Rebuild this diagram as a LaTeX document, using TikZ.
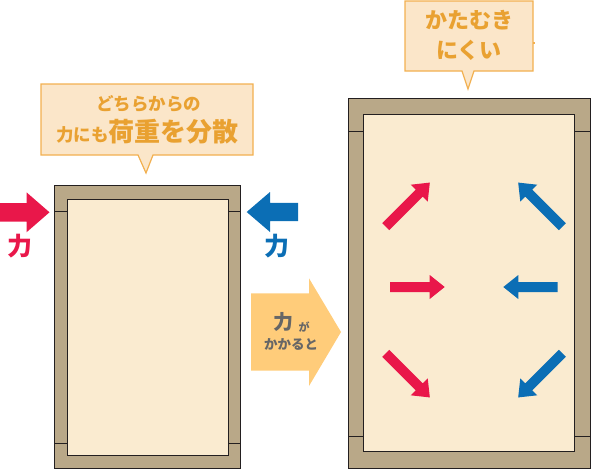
\documentclass[tikz,border=0pt]{standalone}
\usepackage{fontspec}
\newfontfamily\jp{Noto Sans CJK JP}
\definecolor{tanc}{HTML}{B9A888}
\definecolor{creamc}{HTML}{FAEBD0}
\definecolor{linec}{HTML}{231F20}
\definecolor{calfill}{HTML}{FBE6C9}
\definecolor{calline}{HTML}{F2B050}
\definecolor{caltext}{HTML}{E9A131}
\definecolor{redc}{HTML}{E9174A}
\definecolor{bluec}{HTML}{0B6EB5}
\definecolor{orangec}{HTML}{FFCC7A}
\definecolor{grayc}{HTML}{666666}
\newcommand\blockarr[7]{% color, tail, angle, length, shaft half, head half, head length
  \fill[#1, shift={#2}, rotate=#3] (0,-#5) -- ({#4-#7},-#5) -- ({#4-#7},-#6) -- (#4,0) -- ({#4-#7},#6) -- ({#4-#7},#5) -- (0,#5) -- cycle;}
\tikzset{
  framebox/.style={draw=linec, line width=0.9pt},
  callout/.style={draw=calline, fill=calfill, line width=1.2pt, line join=miter},
  caltxt/.style={text=caltext, font=\jp\bfseries, inner sep=0pt, anchor=base},
  forcetxt/.style={font=\jp\bfseries, inner sep=0pt},
}
\begin{document}
\begin{tikzpicture}[x=1pt,y=-1pt]
\useasboundingbox (0,0) rectangle (591,469);
% left frame
\draw[framebox, fill=tanc] (54,185) rectangle (240,468);
\draw[framebox] (54,211) -- (67,211) (228,211) -- (240,211) (54,443) -- (67,443) (228,443) -- (240,443);
\draw[framebox, fill=creamc] (67,199) rectangle (228,455);
% right frame
\draw[framebox, fill=tanc] (348,98) rectangle (590,468);
\draw[framebox] (348,131) -- (363,131) (574,131) -- (590,131) (348,436) -- (363,436) (574,436) -- (590,436);
\draw[framebox, fill=creamc] (363,114) rectangle (574,451);
% left callout
\draw[callout] (41,84) -- (253,84) -- (253,155) -- (153,155) -- (146,173) -- (138,155) -- (41,155) -- cycle;
\node[caltxt] (c1a) at (148.5,110.5) {\fontsize{17.5}{17.5}\selectfont どちらからの};
\node[caltxt] (c1b) at (147.5,141.5) {\fontsize{17.5}{17.5}\selectfont 力にも\fontsize{26}{26}\selectfont 荷重を分散};
% right callout
\draw[callout] (405,1) -- (533,1) -- (533,71) -- (474,71) -- (468,89) -- (462,71) -- (405,71) -- cycle;
\draw[calline, line width=1.2pt] (533,43) -- (535,43);
\node[caltxt] (c2a) at (469,28.5) {\fontsize{22}{22}\selectfont かたむき};
\node[caltxt] (c2b) at (469,58) {\fontsize{22}{22}\selectfont にくい};
% outer force arrows
\blockarr{redc}{(0,212.3)}{0}{49.5}{9.2}{20}{23}
\blockarr{bluec}{(298,212)}{180}{51.3}{9.2}{20}{23.3}
\node[forcetxt, text=redc] (f1) at (20.5,246) {\fontsize{25}{25}\selectfont 力};
\node[forcetxt, text=bluec] (f2) at (277,246) {\fontsize{25}{25}\selectfont 力};
% big orange arrow
\fill[orangec] (251,293.3) -- (309,293.3) -- (309,278.3) -- (341,332) -- (309,386) -- (309,370.7) -- (251,370.7) -- cycle;
\node[forcetxt, text=grayc] (g1) at (283,322) {\fontsize{20}{20}\selectfont 力};
\node[forcetxt, text=grayc] (g2) at (304,327) {\fontsize{11}{11}\selectfont が};
\node[forcetxt, text=grayc] (g3) at (291,344) {\fontsize{13.5}{13.5}\selectfont かかると};
% inner arrows
\blockarr{redc}{(385.7,226.7)}{45}{62.4}{5}{12}{15}
\blockarr{redc}{(390,287)}{0}{54.7}{5}{12}{15}
\blockarr{redc}{(385.7,353.3)}{-45}{62.4}{5}{12}{15}
\blockarr{bluec}{(562.3,226.7)}{135}{62.4}{5}{12}{15}
\blockarr{bluec}{(557.7,287)}{180}{54.4}{5}{12}{15}
\blockarr{bluec}{(562.3,353.3)}{225}{62.4}{5}{12}{15}
\end{tikzpicture}
\end{document}
